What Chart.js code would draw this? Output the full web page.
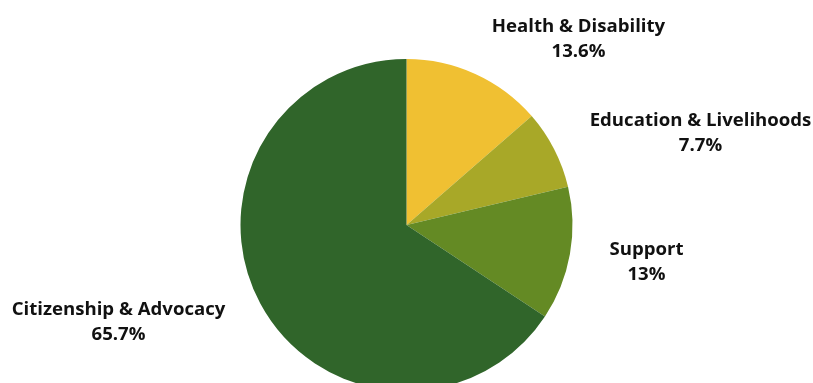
<!DOCTYPE html>
<html>
<head>
<meta charset="utf-8">
<script src="https://cdn.jsdelivr.net/npm/chart.js@4.4.0/dist/chart.umd.min.js"></script>
<style>
    body { margin: 0; background: #fff; }
    #frame { width: 813px; height: 383px; overflow: hidden; position: relative; }
    #wrap { width: 813px; height: 450px; position: absolute; left: 0; top: 0; }
</style>
</head>
<body>
<div id="frame">
    <div id="wrap"><canvas id="chart"></canvas></div>
</div>
<script>
    const categories = ['Health & Disability', 'Education & Livelihoods', 'Support', 'Citizenship & Advocacy'];
    const shares = [13.6, 7.7, 13, 65.7];
    const sliceColors = ['#F0C032', '#A8A828', '#648A24', '#30652A'];
    // where each label sits, relative to the pie centre
    const labelOffsets = [[172, -186], [294, -92], [240, 37], [-288, 97]];

    const outsideLabels = {
        id: 'outsideLabels',
        afterDatasetsDraw(chart) {
            const ctx = chart.ctx;
            const arcs = chart.getDatasetMeta(0).data;
            ctx.save();
            ctx.fillStyle = '#111';
            ctx.font = 'bold 18.6px "Open Sans"';
            ctx.textAlign = 'center';
            ctx.textBaseline = 'middle';
            arcs.forEach((arc, i) => {
                const x = arc.x + labelOffsets[i][0];
                const y = arc.y + labelOffsets[i][1];
                ctx.fillText(categories[i], x, y - 12.5);
                ctx.fillText(shares[i] + '%', x, y + 12.5);
            });
            ctx.restore();
        }
    };

    new Chart(document.getElementById('chart').getContext('2d'), {
        type: 'pie',
        data: {
            labels: categories,
            datasets: [{
                data: shares,
                backgroundColor: sliceColors,
                borderWidth: 0
            }]
        },
        options: {
            responsive: true,
            maintainAspectRatio: false,
            animation: false,
            layout: { padding: { top: 59, bottom: 59 } },
            plugins: {
                legend: { display: false },
                tooltip: { enabled: false }
            }
        },
        plugins: [outsideLabels]
    });
</script>
</body>
</html>
